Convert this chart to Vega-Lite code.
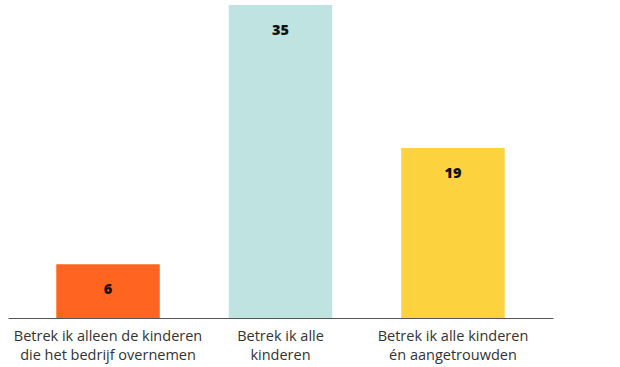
{
  "$schema": "https://vega.github.io/schema/vega-lite/v6.json",
  "autosize": "none",
  "width": 545,
  "height": 313,
  "padding": {"left": 8, "top": 5, "right": 67, "bottom": 49},
  "background": "white",
  "config": {"view": {"stroke": null}},
  "data": {"values": [
    {"cat": "Betrek ik alleen de kinderen|die het bedrijf overnemen", "value": 6, "color": "#FF6420"},
    {"cat": "Betrek ik alle|kinderen", "value": 35, "color": "#BEE3E0"},
    {"cat": "Betrek ik alle kinderen|én aangetrouwden", "value": 19, "color": "#FDD23F"}
  ]},
  "encoding": {
    "x": {"field": "cat", "type": "nominal", "sort": null,
      "scale": {"paddingInner": 0.4, "paddingOuter": 0.28},
      "axis": {"title": null, "labelAngle": 0, "ticks": false, "domainColor": "#555555", "domainWidth": 1,
        "labelExpr": "split(datum.value, '|')", "labelFont": "Open Sans", "labelFontSize": 14.5,
        "labelColor": "#333333", "labelLineHeight": 19, "labelPadding": 11, "labelLimit": 300}},
    "y": {"field": "value", "type": "quantitative", "scale": {"domain": [0, 35], "nice": false}, "axis": null}
  },
  "layer": [
    {"mark": {"type": "bar"}, "encoding": {"color": {"field": "color", "type": "nominal", "scale": null}}},
    {"mark": {"type": "text", "dy": 26, "baseline": "middle", "font": "Open Sans", "fontWeight": 800, "fontSize": 14.5, "color": "#111111"},
     "encoding": {"text": {"field": "value", "type": "quantitative"}}}
  ]
}
